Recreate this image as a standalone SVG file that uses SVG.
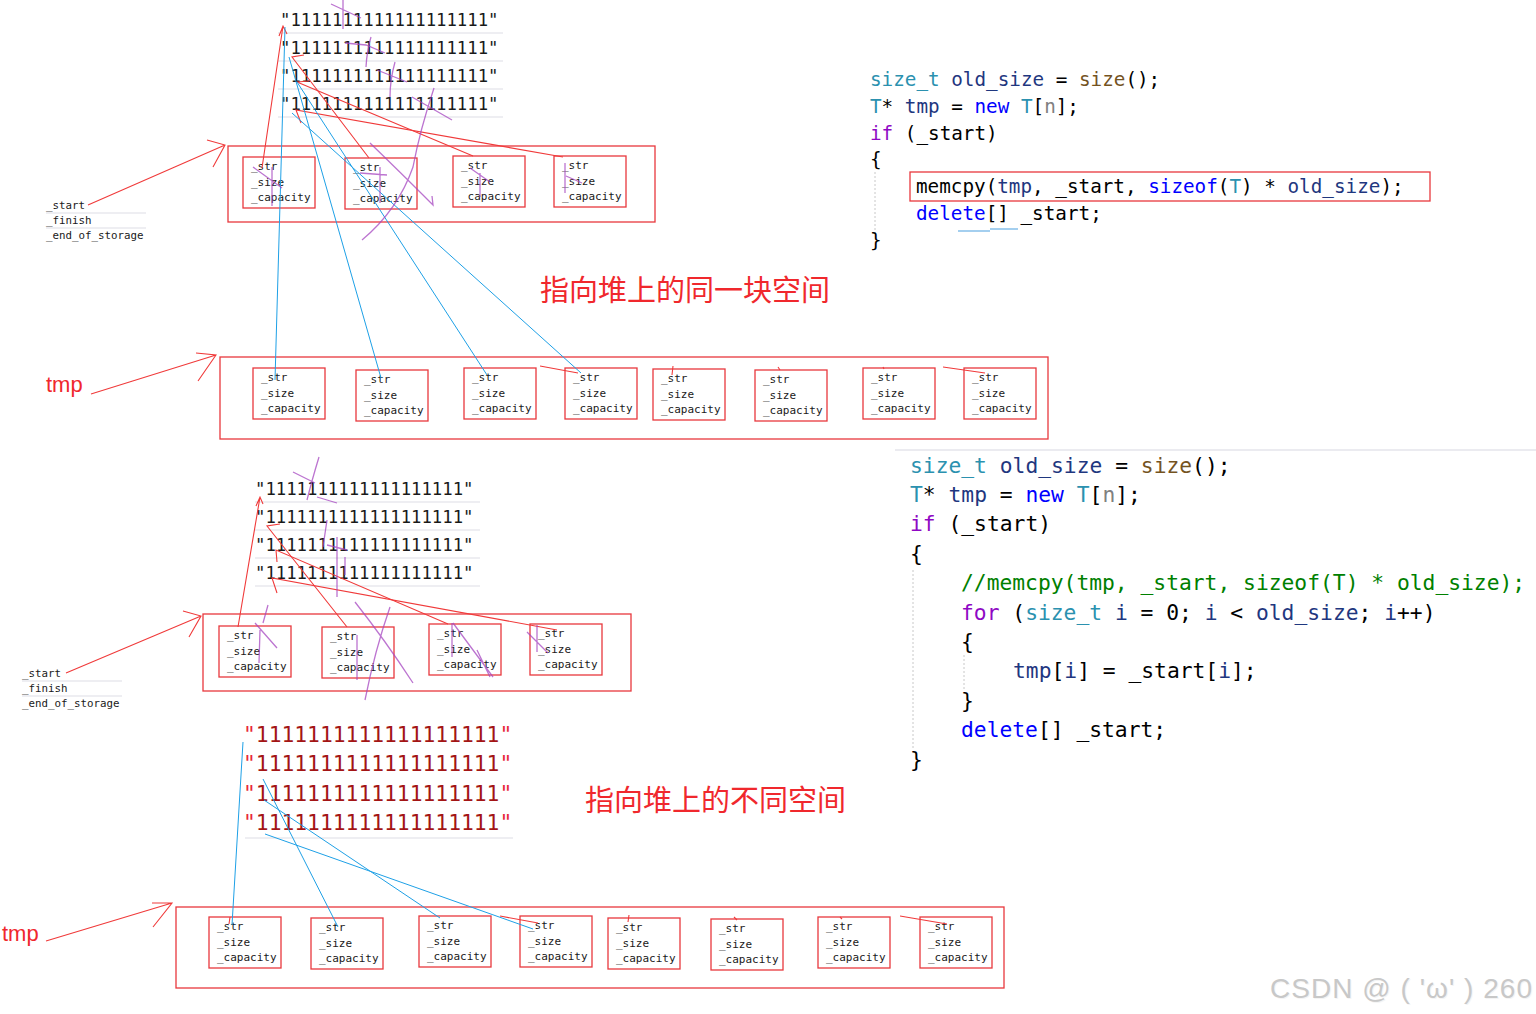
<svg xmlns="http://www.w3.org/2000/svg" width="1536" height="1014" viewBox="0 0 1536 1014">
<defs>
<style>
.fld{font-family:"DejaVu Sans Mono","Liberation Mono",monospace;font-size:11px;fill:#1a1a1a;}
.box{fill:none;stroke:#e8383d;stroke-width:1.3;}
.lbl{font-family:"DejaVu Sans Mono","Liberation Mono",monospace;font-size:10.8px;fill:#1a1a1a;}
.sep{stroke:#e8e8ee;stroke-width:1.5;}
.str{font-family:"DejaVu Sans Mono","Liberation Mono",monospace;font-size:17.3px;fill:#1a1a1a;}
.rstr{font-family:"DejaVu Sans Mono","Liberation Mono",monospace;font-size:21.3px;fill:#a31515;}
.q{fill:#e8283a;}
.code{font-family:"DejaVu Sans Mono","Liberation Mono",monospace;fill:#000;}
.c1{font-size:19.3px;}
.c2{font-size:21.3px;}
.ty{fill:#2b91af;} .va{fill:#1f377f;} .fn{fill:#74531f;} .kw{fill:#0000ff;} .ct{fill:#8f08c4;} .pr{fill:#808080;} .cm{fill:#008000;}
.red{stroke:#f03a3a;fill:none;stroke-width:1.1;}
.blue{stroke:#1ea0e6;fill:none;stroke-width:1;}
.purp{stroke:#a545c0;fill:none;stroke-width:1.3;opacity:.75;}
.ttl{font-family:"Noto Sans CJK SC",sans-serif;font-size:29px;fill:#f0282d;}
.tmp{font-family:"Liberation Sans",Arial,sans-serif;font-size:22px;fill:#f0282d;}
.guide{stroke:#c8c8c8;stroke-width:1;stroke-dasharray:2 2;}
.wm{font-family:"Liberation Sans",Arial,sans-serif;font-size:28px;}
</style>
<g id="fb">
<rect class="box" x="0" y="0" width="72" height="51"/>
<text class="fld" x="8" y="13">_str</text>
<text class="fld" x="8" y="28.5">_size</text>
<text class="fld" x="8" y="44">_capacity</text>
</g>
</defs>
<rect width="1536" height="1014" fill="#fff"/>

<!-- ===== TOP SECTION ===== -->
<g id="top-strings">
<line class="sep" x1="278" y1="33" x2="503" y2="33"/>
<line class="sep" x1="278" y1="61" x2="503" y2="61"/>
<line class="sep" x1="278" y1="89" x2="503" y2="89"/>
<line class="sep" x1="278" y1="117" x2="503" y2="117"/>
<text class="str" x="280" y="26">"1111111111111111111"</text>
<text class="str" x="280" y="54">"1111111111111111111"</text>
<text class="str" x="280" y="82">"1111111111111111111"</text>
<text class="str" x="280" y="110">"1111111111111111111"</text>
</g>

<g id="top-members">
<line class="sep" x1="46" y1="213" x2="146" y2="213"/>
<line class="sep" x1="46" y1="228" x2="146" y2="228"/>
<text class="lbl" x="46" y="209">_start</text>
<text class="lbl" x="46" y="224">_finish</text>
<text class="lbl" x="46" y="239">_end_of_storage</text>
</g>

<g id="top-old-array">
<rect class="box" x="228" y="146" width="427" height="76"/>
<use href="#fb" x="243" y="157"/>
<use href="#fb" x="345" y="158"/>
<use href="#fb" x="453" y="156"/>
<use href="#fb" x="554" y="156"/>
</g>

<g id="top-tmp-label"><text class="tmp" x="46" y="392">tmp</text></g>

<g id="top-tmp-array">
<rect class="box" x="220" y="357" width="828" height="82"/>
<use href="#fb" x="253" y="368"/>
<use href="#fb" x="356" y="370"/>
<use href="#fb" x="464" y="368"/>
<use href="#fb" x="565" y="368"/>
<use href="#fb" x="653" y="369"/>
<use href="#fb" x="755" y="370"/>
<use href="#fb" x="863" y="368"/>
<use href="#fb" x="964" y="368"/>
</g>

<g id="top-title"><text class="ttl" x="540" y="301">指向堆上的同一块空间</text></g>

<g id="top-code" class="code c1" xml:space="preserve">
<line class="guide" x1="875" y1="172" x2="875" y2="234"/>
<rect x="910" y="172" width="520" height="29" fill="none" stroke="#e8383d" stroke-width="1.3"/>
<path d="M958,231 L990,231 M990,229 L1018,229" stroke="#4aa0e0" stroke-width="1.2" fill="none"/>
<text x="870" y="86"><tspan class="ty">size_t</tspan> <tspan class="va">old_size</tspan> = <tspan class="fn">size</tspan>();</text>
<text x="870" y="112.8"><tspan class="ty">T</tspan>* <tspan class="va">tmp</tspan> = <tspan class="kw">new</tspan> <tspan class="ty">T</tspan>[<tspan class="pr">n</tspan>];</text>
<text x="870" y="139.6"><tspan class="ct">if</tspan> (_start)</text>
<text x="870" y="166.4">{</text>
<text x="916" y="193.2">memcpy(<tspan class="va">tmp</tspan>, _start, <tspan class="kw">sizeof</tspan>(<tspan class="ty">T</tspan>) * <tspan class="va">old_size</tspan>);</text>
<text x="916" y="220"><tspan class="kw">delete</tspan>[] _start;</text>
<text x="870" y="246.8">}</text>
</g>

<!-- ===== BOTTOM SECTION ===== -->
<line x1="895" y1="450" x2="1536" y2="450" stroke="#ebebf0" stroke-width="2"/>

<g id="bottom-strings">
<line class="sep" x1="255" y1="502" x2="480" y2="502"/>
<line class="sep" x1="255" y1="530" x2="480" y2="530"/>
<line class="sep" x1="255" y1="558" x2="480" y2="558"/>
<line class="sep" x1="255" y1="586" x2="480" y2="586"/>
<text class="str" x="255" y="495">"1111111111111111111"</text>
<text class="str" x="255" y="523">"1111111111111111111"</text>
<text class="str" x="255" y="551">"1111111111111111111"</text>
<text class="str" x="255" y="579">"1111111111111111111"</text>
</g>

<g id="bottom-members">
<line class="sep" x1="22" y1="681" x2="122" y2="681"/>
<line class="sep" x1="22" y1="696" x2="122" y2="696"/>
<text class="lbl" x="22" y="677">_start</text>
<text class="lbl" x="22" y="692">_finish</text>
<text class="lbl" x="22" y="707">_end_of_storage</text>
</g>

<g id="bottom-old-array">
<rect class="box" x="203" y="614" width="428" height="77"/>
<use href="#fb" x="219" y="626"/>
<use href="#fb" x="322" y="627"/>
<use href="#fb" x="429" y="624"/>
<use href="#fb" x="530" y="624"/>
</g>

<g id="bottom-new-strings">
<line class="sep" x1="245" y1="838" x2="513" y2="838"/>
<text class="rstr" x="243" y="742"><tspan class="q">"</tspan>1111111111111111111<tspan class="q">"</tspan></text>
<text class="rstr" x="243" y="771"><tspan class="q">"</tspan>1111111111111111111<tspan class="q">"</tspan></text>
<text class="rstr" x="243" y="801"><tspan class="q">"</tspan>1111111111111111111<tspan class="q">"</tspan></text>
<text class="rstr" x="243" y="830"><tspan class="q">"</tspan>1111111111111111111<tspan class="q">"</tspan></text>
</g>

<g id="bottom-title"><text class="ttl" x="585" y="811">指向堆上的不同空间</text></g>

<g id="bottom-tmp-label"><text class="tmp" x="2" y="941">tmp</text></g>

<g id="bottom-tmp-array">
<rect class="box" x="176" y="907" width="828" height="81"/>
<use href="#fb" x="209" y="917"/>
<use href="#fb" x="311" y="918"/>
<use href="#fb" x="419" y="916"/>
<use href="#fb" x="520" y="916"/>
<use href="#fb" x="608" y="918"/>
<use href="#fb" x="711" y="919"/>
<use href="#fb" x="818" y="917"/>
<use href="#fb" x="920" y="917"/>
</g>

<g id="bottom-code" class="code c2" xml:space="preserve">
<line class="guide" x1="913" y1="570" x2="913" y2="748"/>
<line class="guide" x1="964" y1="655" x2="964" y2="690"/>
<text x="910" y="472.5"><tspan class="ty">size_t</tspan> <tspan class="va">old_size</tspan> = <tspan class="fn">size</tspan>();</text>
<text x="910" y="501.9"><tspan class="ty">T</tspan>* <tspan class="va">tmp</tspan> = <tspan class="kw">new</tspan> <tspan class="ty">T</tspan>[<tspan class="pr">n</tspan>];</text>
<text x="910" y="531.3"><tspan class="ct">if</tspan> (_start)</text>
<text x="910" y="560.7">{</text>
<text x="961" y="590.1" class="cm">//memcpy(tmp, _start, sizeof(T) * old_size);</text>
<text x="961" y="619.5"><tspan class="ct">for</tspan> (<tspan class="ty">size_t</tspan> <tspan class="va">i</tspan> = 0; <tspan class="va">i</tspan> &lt; <tspan class="va">old_size</tspan>; <tspan class="va">i</tspan>++)</text>
<text x="961" y="648.9">{</text>
<text x="1013" y="678.3"><tspan class="va">tmp</tspan>[<tspan class="va">i</tspan>] = _start[<tspan class="va">i</tspan>];</text>
<text x="961" y="707.7">}</text>
<text x="961" y="737.1"><tspan class="kw">delete</tspan>[] _start;</text>
<text x="910" y="766.5">}</text>
</g>

<g id="watermark">
<text class="wm" x="1270" y="998" fill="#f4f4f4" textLength="262" lengthAdjust="spacing" transform="translate(1,1)">CSDN @ ( 'ω' ) 260</text>
<text class="wm" x="1270" y="998" fill="#c8c8c8" textLength="262" lengthAdjust="spacing">CSDN @ ( 'ω' ) 260</text>
</g>

<!-- ===== CONNECTORS ===== -->
<g id="connectors">
<path class="red" d="M88,205 L225,145 M207,140 L225,145 L213,167"/>
<path class="red" d="M91,394 L216,355 M196,353 L216,355 L198,381"/>
<path class="red" d="M66,673 L201,616 M183,611 L201,616 L189,637"/>
<path class="red" d="M46,941 L172,903 M152,903 L172,903 L153,927"/>

<path class="red" d="M262,168 L283,26 M279,36 L283,26 L287,34"/>
<path class="red" d="M369,158 L292,57 L304,55"/>
<path class="red" d="M473,156 L297,82 L309,81"/>
<path class="red" d="M563,157 L296,110 L301,123"/>
<path class="red" d="M540,366 L578,373 M943,367 L985,373 M673,366 L672,375 M778,367 L780,370 M883,367 L884,369"/>

<path class="blue" d="M285,27 L275,380"/>
<path class="blue" d="M289,57 L381,378"/>
<path class="blue" d="M297,82 L487,375"/>
<path class="blue" d="M292,113 L581,373"/>

<path class="red" d="M238,627 L260,497 M256,506 L260,497 L263,504"/>
<path class="red" d="M347,627 L267,526 L280,524"/>
<path class="red" d="M448,624 L276,550 L277,562"/>
<path class="red" d="M557,630 L272,578 L277,593"/>
<path class="red" d="M500,916 L538,923 M900,916 L947,924 M629,915 L628,922 M734,917 L737,920 M840,917 L842,919 M230,917 L229,924"/>

<path class="blue" d="M243,742 L232,925"/>
<path class="blue" d="M263,779 L338,927"/>
<path class="blue" d="M264,800 L440,918"/>
<path class="blue" d="M265,834 L533,929"/>

<path class="purp" d="M331,4 L361,18 M343,0 L343,29 M345,43 L366,45 L385,53 M371,37 Q367,50 366,67 M395,62 Q390,80 390,97 M377,70 L407,82 M434,88 Q420,130 413,167 Q398,210 362,240 M412,97 L452,120 M370,143 Q400,172 433,205 L432,196 M253,167 L282,188 M272,167 L272,206 M360,173 L387,175 M380,167 L380,203 M480,173 L480,197 M470,168 L490,182 M565,163 L565,193 M566,176 L582,183"/>
<path class="purp" d="M293,472 L315,483 M319,457 Q312,480 307,500 M317,497 L337,503 M327,520 L323,547 M327,545 L347,550 M337,537 L337,597 M345,557 L345,575 M255,623 L277,648 M260,630 L259,663 M268,605 L263,623 M357,635 L357,680 M355,602 Q385,640 413,683 M390,607 Q375,650 365,700 M453,623 L493,677 M452,623 L452,657 M477,650 L490,677 M537,625 L537,652 M527,632 L548,653"/>
</g>
</svg>
